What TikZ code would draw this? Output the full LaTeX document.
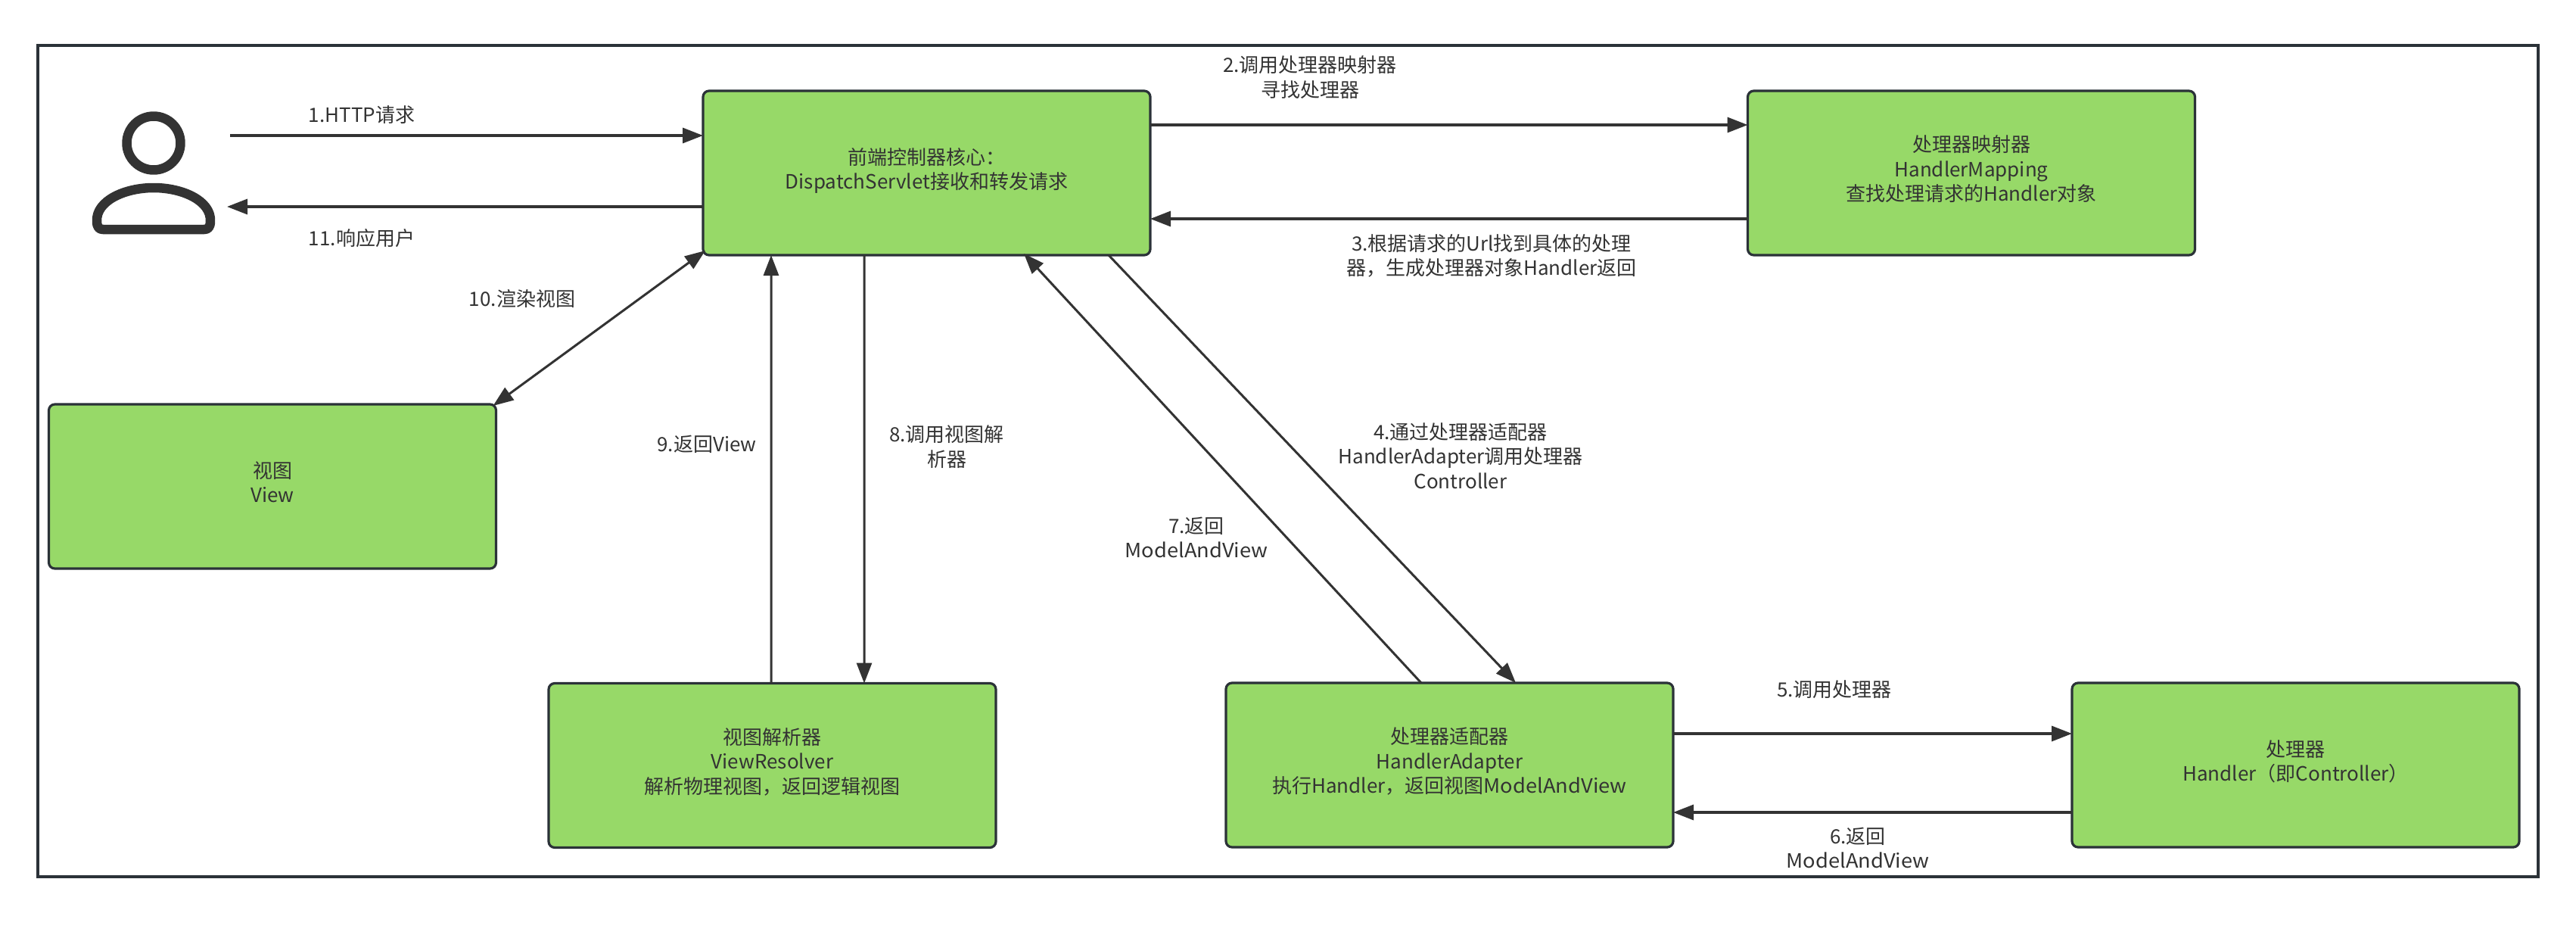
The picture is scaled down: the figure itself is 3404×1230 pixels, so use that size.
\documentclass[tikz,border=0pt]{standalone}
\usepackage{fontspec}
\setmainfont{Noto Sans CJK SC}
\newfontfamily\widelatin{Noto Sans CJK SC}[FakeStretch=1.05]
\newcommand{\mav}{{\widelatin ModelAndView}}
\usetikzlibrary{arrows.meta,calc}
\definecolor{ink}{HTML}{333333}
\definecolor{edge}{HTML}{2B3238}
\definecolor{leaf}{HTML}{97D968}
\tikzset{
  boxnode/.style={draw=edge,fill=leaf,line width=3.2bp,rounded corners=8bp,minimum width=591bp,minimum height=217bp,inner sep=0pt,outer sep=0pt,align=center,text=ink,text depth=12bp,font=\fontsize{26bp}{32.5bp}\selectfont},
  lab/.style={align=center,text=ink,inner sep=0pt,font=\fontsize{26bp}{32.5bp}\selectfont},
  thick link/.style={draw=ink,line width=3.4bp,-{Triangle[length=27bp,width=20bp]}},
  slim link/.style={draw=ink,line width=3bp,-{Triangle[length=27bp,width=20bp]}},
  both link/.style={draw=ink,line width=3bp,{Triangle[length=27bp,width=20bp]}-{Triangle[length=27bp,width=20bp]}},
  iconline/.style={draw=ink,line width=12.5bp,line join=round},
}
\begin{document}
\begin{tikzpicture}[x=1bp,y=-1bp]
\useasboundingbox (0,0) rectangle (3404,1230);
\fill[white] (0,0) rectangle (3404,1230);
\draw[draw=edge,line width=3.4bp] (50,60) rectangle (3354,1158);
% person icon
\draw[iconline] (203,189) circle[radius=35.5];
\draw[iconline] (128,292) .. controls (127,265) and (165,248) .. (203,248)
  .. controls (241,248) and (279,265) .. (278,292)
  .. controls (278,300) and (275,303) .. (270,303) -- (136,303)
  .. controls (131,303) and (128,300) .. (128,292) -- cycle;
\coordinate (userout) at (304,179);
\coordinate (userin) at (300,273);
% boxes
\node[boxnode] (front) at (1224.5,228.5) {前端控制器核心：\\DispatchServlet接收和转发请求};
\node[boxnode] (mapping) at (2605,228.5) {处理器映射器\\HandlerMapping\\查找处理请求的Handler对象};
\node[boxnode] (view) at (360,642.5) {视图\\View};
\node[boxnode] (resolver) at (1020.5,1011) {视图解析器\\ViewResolver\\解析物理视图，返回逻辑视图};
\node[boxnode] (adapter) at (1915.5,1010.5) {处理器适配器\\HandlerAdapter\\执行Handler，返回视图\mav};
\node[boxnode] (handler) at (3033.5,1010.5) {处理器\\Handler（即Controller）};
% connectors
\draw[thick link] (userout) -- (front.west |- userout);
\draw[thick link] (front.west |- userin) -- (userin);
\draw[thick link] ($(front.east)+(0,-63.5)$) -- ($(mapping.west)+(0,-63.5)$);
\draw[thick link] ($(mapping.west)+(0,60.5)$) -- ($(front.east)+(0,60.5)$);
\draw[both link] ($(front.south west)+(3,-6)$) -- ($(view.north east)+(-4,2)$);
\draw[slim link] ($(resolver.north)+(-1.5,0)$) -- ($(front.south west)+(90,0)$);
\draw[slim link] ($(front.south west)+(213,0)$) -- ($(resolver.north)+(121.5,0)$);
\draw[slim link] ($(adapter.north west)+(258,0)$) -- ($(front.south west)+(424,-2)$);
\draw[slim link] ($(front.south west)+(536,0)$) -- ($(adapter.north west)+(383,0)$);
\draw[thick link] ($(adapter.east)+(0,-41.5)$) -- ($(handler.west)+(0,-41.5)$);
\draw[thick link] ($(handler.west)+(0,62.5)$) -- ($(adapter.east)+(0,62.5)$);
% labels
\node[lab] (l1) at (478,152) {1.HTTP请求};
\node[lab] (l11) at (478,315) {11.响应用户};
\node[lab] (l10) at (690,395) {10.渲染视图};
\node[lab] (l2) at (1731,102) {2.调用处理器映射器\\寻找处理器};
\node[lab] (l3) at (1971,338) {3.根据请求的Url找到具体的处理\\器，生成处理器对象Handler返回};
\node[lab] (l4) at (1930,602) {4.通过处理器适配器\\HandlerAdapter调用处理器\\Controller};
\node[lab] (l7) at (1581,710) {7.返回\\\mav};
\node[lab] (l9) at (934,587) {9.返回View};
\node[lab] (l8) at (1251,590) {8.调用视图解\\析器};
\node[lab] (l5) at (2424,911) {5.调用处理器};
\node[lab] (l6) at (2455,1120) {6.返回\\\mav};
\end{tikzpicture}
\end{document}
